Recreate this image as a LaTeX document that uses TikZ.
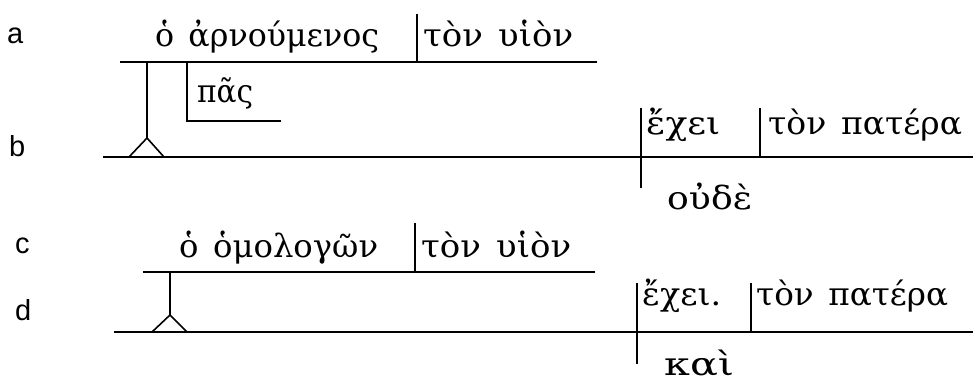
\documentclass[tikz,border=0pt]{standalone}
\usepackage{fontspec}
\usepackage{graphicx}
\setmainfont{DejaVu Serif}
\newfontfamily\labfont{Liberation Sans}
\newsavebox\gkbox
\newcommand{\gw}[2]{\sbox\gkbox{\spaceskip=0.45em\relax #2}\resizebox{#1pt}{\ht\gkbox}{\usebox\gkbox}}
\begin{document}
\begin{tikzpicture}[x=1pt,y=-1pt,
  ln/.style={line width=1.6pt},
  gk/.style={inner sep=0pt,anchor=base west,font=\fontsize{32}{38}\selectfont},
  lab/.style={inner sep=0pt,anchor=base west,font=\labfont\fontsize{29}{34}\selectfont}]
\useasboundingbox (0,0) rectangle (973,387);
% labels
\node[lab] (la) at (7,44) {a};
\node[lab] (lb) at (9,157) {b};
\node[lab] (lc) at (15,253) {c};
\node[lab] (ld) at (15,320) {d};
% ---- sentence 1
\coordinate (a1) at (120,62); \coordinate (a2) at (597,62);
\coordinate (ad1) at (417,14); \coordinate (ad2) at (417,62);
\coordinate (as1) at (147,62); \coordinate (as2) at (147,138);
\coordinate (at1) at (129,157); \coordinate (at2) at (164,157);
\coordinate (b1) at (103,157); \coordinate (b2) at (973,157);
\coordinate (p1) at (187,62); \coordinate (p2) at (187,121); \coordinate (p3) at (281,121);
\coordinate (bv1) at (641,108); \coordinate (bv2) at (641,188);
\coordinate (bo1) at (760,108); \coordinate (bo2) at (760,157);
\draw[ln] (a1) -- (a2);
\draw[ln] (ad1) -- (ad2);
\draw[ln] (as1) -- (as2);
\draw[ln] (at1) -- (as2) -- (at2);
\draw[ln] (b1) -- (b2);
\draw[ln] (p1) -- (p2) -- (p3);
\draw[ln] (bv1) -- (bv2);
\draw[ln] (bo1) -- (bo2);
\node[gk] (s1) at (155,47) {\gw{224}{ὁ ἀρνούμενος}};
\node[gk] (o1) at (423,47) {\gw{150}{τὸν υἱὸν}};
\node[gk] (pas) at (197,103) {\gw{56}{πᾶς}};
\node[gk] (v1) at (646,135) {\gw{74}{ἔχει}};
\node[gk] (o2) at (768,135) {\gw{194}{τὸν πατέρα}};
\node[gk] (c1) at (667,210) {\gw{85}{οὐδὲ}};
% ---- sentence 2
\coordinate (c1a) at (143,272); \coordinate (c1b) at (595,272);
\coordinate (cd1) at (415,223); \coordinate (cd2) at (415,272);
\coordinate (cs1) at (170,272); \coordinate (cs2) at (170,315);
\coordinate (ct1) at (152,332); \coordinate (ct2) at (187,332);
\coordinate (d1) at (114,332); \coordinate (d2) at (973,332);
\coordinate (dv1) at (637,283); \coordinate (dv2) at (637,364);
\coordinate (do1) at (751,283); \coordinate (do2) at (751,332);
\draw[ln] (c1a) -- (c1b);
\draw[ln] (cd1) -- (cd2);
\draw[ln] (cs1) -- (cs2);
\draw[ln] (ct1) -- (cs2) -- (ct2);
\draw[ln] (d1) -- (d2);
\draw[ln] (dv1) -- (dv2);
\draw[ln] (do1) -- (do2);
\node[gk] (s2) at (179,257) {\gw{199}{ὁ ὁμολογῶν}};
\node[gk] (o3) at (421,257) {\gw{150}{τὸν υἱὸν}};
\node[gk] (v2) at (642,305) {\gw{79}{ἔχει.}};
\node[gk] (o4) at (756,305) {\gw{192}{τὸν πατέρα}};
\node[gk] (c2) at (664,375) {\gw{70}{καὶ}};
\end{tikzpicture}
\end{document}
